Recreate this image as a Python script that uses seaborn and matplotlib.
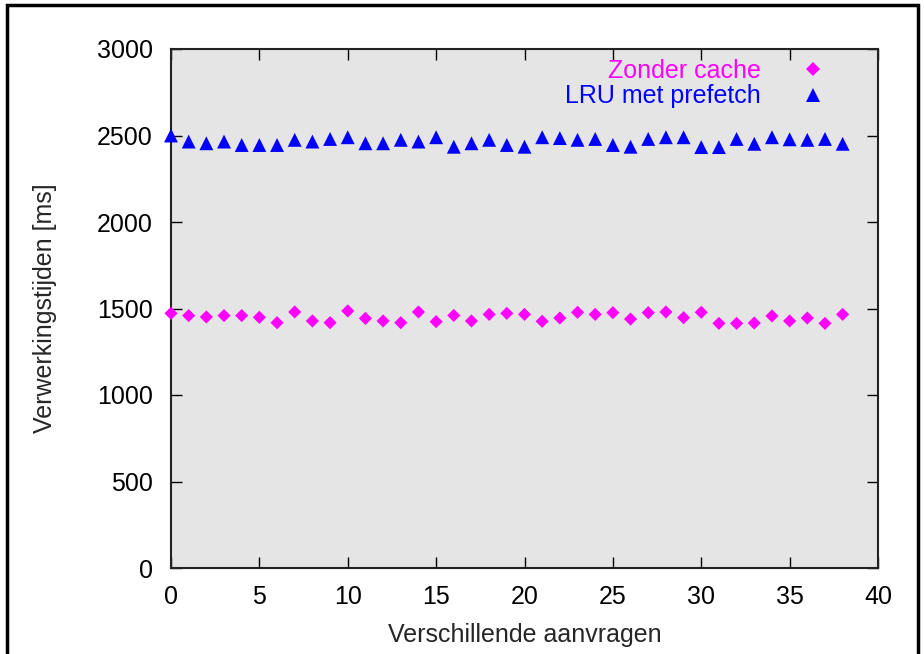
import numpy as np
import pandas as pd
import matplotlib
matplotlib.use("Agg")
import matplotlib.pyplot as plt
import seaborn as sns
from matplotlib.patches import Rectangle

# request index 0..38
aanvragen = list(range(39))

zonder_cache = [1472, 1459, 1451, 1459, 1459, 1449, 1418, 1480, 1428, 1418,
                1486, 1443, 1428, 1418, 1480, 1424, 1460, 1428, 1466, 1472,
                1466, 1426, 1445, 1478, 1466, 1476, 1439, 1476, 1480, 1447,
                1478, 1414, 1414, 1416, 1457, 1428, 1445, 1414, 1466]

lru_prefetch = [2500, 2465, 2455, 2465, 2445, 2445, 2445, 2475, 2465, 2480,
                2490, 2455, 2455, 2475, 2465, 2490, 2435, 2455, 2475, 2445,
                2435, 2490, 2485, 2475, 2480, 2445, 2435, 2480, 2490, 2490,
                2433, 2433, 2480, 2452, 2490, 2478, 2475, 2480, 2452]

series_names = ["Zonder cache", "LRU met prefetch"]
series_colors = ["#ff00ff", "#0000ff"]

df = pd.DataFrame({
    "x": aanvragen * 2,
    "y": zonder_cache + lru_prefetch,
    "serie": [series_names[0]] * len(aanvragen) + [series_names[1]] * len(aanvragen),
})

sns.set_style("ticks")
plt.rcParams["font.family"] = ["Liberation Sans", "DejaVu Sans"]

fig = plt.figure(figsize=(9.24, 6.54), dpi=100)
ax = fig.add_axes([171 / 924, 1 - 568 / 654, (878 - 171) / 924, (568 - 49) / 654])
ax.set_facecolor("#e5e5e5")

sns.scatterplot(data=df, x="x", y="y", hue="serie", style="serie",
                palette=dict(zip(series_names, series_colors)),
                markers={series_names[0]: "D", series_names[1]: "^"},
                size="serie", sizes={series_names[0]: 45, series_names[1]: 100},
                linewidth=0, ax=ax, clip_on=False, zorder=3, legend=False)

ax.set_xlim(0, 40)
ax.set_ylim(0, 3000)
ax.set_xticks(range(0, 41, 5))
ax.set_yticks(range(0, 3001, 500))
ax.tick_params(direction="in", length=8, width=1, top=True, right=True,
               labelsize=18, colors="black")
ax.tick_params(axis="y", pad=13)
ax.tick_params(axis="x", pad=12)
for sp in ax.spines.values():
    sp.set_linewidth(1.5)
    sp.set_color("#222222")

ax.set_xlabel("Verschillende aanvragen", fontsize=18, labelpad=10)
ax.set_ylabel("Verwerkingstijden [ms]", fontsize=18, labelpad=29)

handles = [
    plt.Line2D([], [], linestyle="none", marker="D", markersize=7.5,
               markerfacecolor=series_colors[0], markeredgewidth=0),
    plt.Line2D([], [], linestyle="none", marker="^", markersize=9.5,
               markerfacecolor=series_colors[1], markeredgewidth=0),
]
leg = ax.legend(handles, series_names, frameon=False, markerfirst=False,
                loc="upper right", fontsize=18, handletextpad=1.0,
                handlelength=2.2, borderaxespad=0.0, labelspacing=0.05,
                bbox_to_anchor=(0.961, 1.0))
for txt, col in zip(leg.get_texts(), series_colors):
    txt.set_color(col)

# outer frame around the figure
fig.patches.append(Rectangle((7 / 924, -0.1), (918 - 7) / 924, 1.1 - 5 / 654,
                             transform=fig.transFigure, fill=False,
                             edgecolor="black", linewidth=2.5))

fig.savefig("out.png", dpi=100)
